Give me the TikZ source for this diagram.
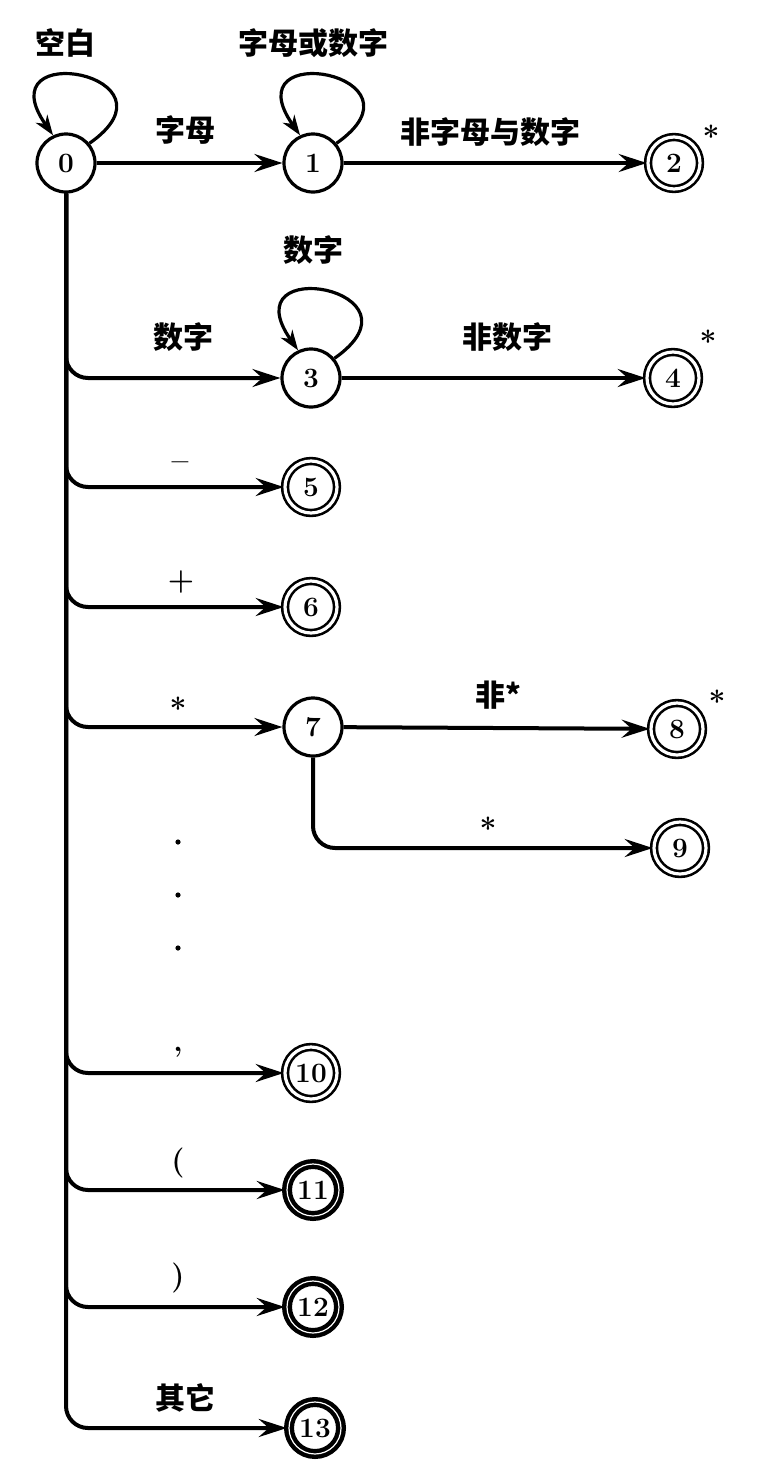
\documentclass[tikz,border=0pt]{standalone}
\usepackage{fontspec}
\newfontfamily\cjk{Noto Sans CJK SC}
\usetikzlibrary{arrows.meta}

\tikzset{
  st/.style={draw, circle, line width=1.6pt, minimum size=29pt, inner sep=0pt,
    font=\fontsize{14}{14}\selectfont\bfseries},
  fin/.style={st, double, line width=1.3pt, double distance=1.6pt, minimum size=26pt},
  heavy/.style={fin, line width=2.2pt, double distance=0.6pt},
  lbl/.style={inner sep=0pt, font=\cjk\bfseries\fontsize{15}{15}\selectfont},
  sym/.style={inner sep=0pt, font=\fontsize{15}{15}\selectfont\bfseries},
  dotmark/.style={circle, fill, inner sep=0pt, minimum size=2.6pt},
  arr/.style={line width=2pt, -{Stealth[length=14pt, width=9pt, inset=5pt]}},
  selfloop/.style={line width=1.6pt, -{Stealth[length=10pt, width=7pt, inset=3pt]}},
  branch/.style={arr, rounded corners=11pt},
}

\begin{document}
\begin{tikzpicture}[x=0.5pt, y=-0.5pt]
    \useasboundingbox (0,0) rectangle (780,1478);

    \node[st]    (n0)  at ( 66,  163) {0};
    \node[st]    (n1)  at (313,  163) {1};
    \node[fin]   (n2)  at (674,  163) {2};
    \node[st]    (n3)  at (311,  378) {3};
    \node[fin]   (n4)  at (673,  378) {4};
    \node[fin]   (n5)  at (311,  487) {5};
    \node[fin]   (n6)  at (311,  607) {6};
    \node[st]    (n7)  at (313,  727) {7};
    \node[fin]   (n8)  at (677,  729) {8};
    \node[fin]   (n9)  at (680,  848) {9};
    \node[fin]   (n10) at (311, 1073) {10};
    \node[heavy] (n11) at (313, 1190) {11};
    \node[heavy] (n12) at (313, 1307) {12};
    \node[heavy] (n13) at (315, 1428) {13};

    % labels
    \node[lbl] (t0)  at ( 65,   43) {空白};
    \node[lbl] (t1)  at (313,   43) {字母或数字};
    \node[lbl] (t01) at (185,  130) {字母};
    \node[lbl] (t12) at (490,  132) {非字母与数字};
    \node[lbl] (t3)  at (313,  250) {数字};
    \node[lbl] (t03) at (183,  337) {数字};
    \node[lbl] (t34) at (507,  337) {非数字};
    \node[sym] (t05) at (180,  466) {--};
    \node[sym] (t06) at (181,  582) {+};
    \node[sym] (t07) at (178,  708) {*};
    \node[lbl] (t78) at (498,  695) {非*};
    \node[sym] (t79) at (488,  828) {*};
    \node[sym] (t010) at (178, 1052) {,};
    \node[sym] (t011) at (178, 1163) {(};
    \node[sym] (t012) at (178, 1278) {)};
    \node[lbl] (t013) at (185, 1398) {其它};

    % marks of the retracting states
    \node[sym] (s2) at (711,  136) {*};
    \node[sym] (s4) at (708,  341) {*};
    \node[sym] (s8) at (717,  701) {*};

    \node[dotmark] (d1) at (178, 842) {};
    \node[dotmark] (d2) at (178, 895) {};
    \node[dotmark] (d3) at (178, 948) {};

    \draw[selfloop] (n0.40) to[out=35, in=125, distance=60pt] (n0.115);
    \draw[selfloop] (n1.40) to[out=35, in=125, distance=60pt] (n1.115);
    \draw[selfloop] (n3.40) to[out=35, in=125, distance=60pt] (n3.115);

    \draw[arr] (n0) -- (n1);
    \draw[arr] (n1) -- (n2);
    \draw[arr] (n3) -- (n4);
    \draw[arr] (n7) -- (n8);
    \draw[branch] (n7.south) |- (n9);

    \draw[branch] (n0.south) |- (n3);
    \draw[branch] (n0.south) |- (n5);
    \draw[branch] (n0.south) |- (n6);
    \draw[branch] (n0.south) |- (n7);
    \draw[branch] (n0.south) |- (n10);
    \draw[branch] (n0.south) |- (n11);
    \draw[branch] (n0.south) |- (n12);
    \draw[branch] (n0.south) |- (n13);

  \end{tikzpicture}
\end{document}
